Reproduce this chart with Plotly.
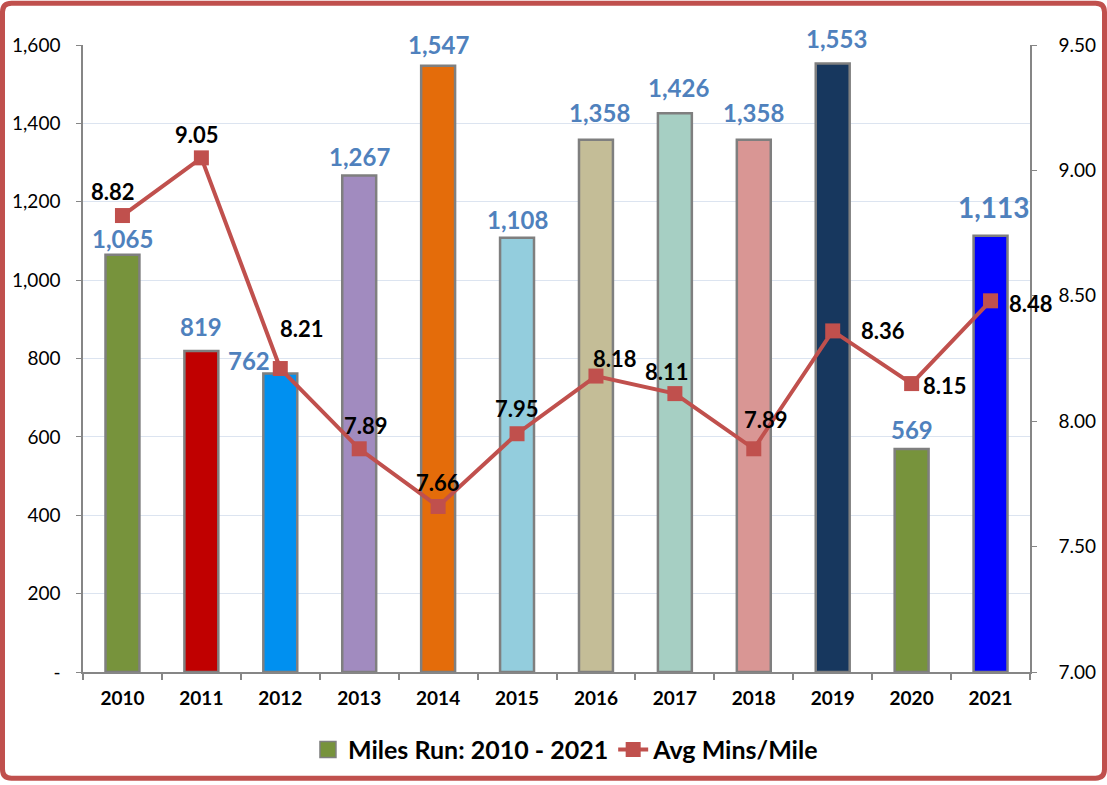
import plotly.graph_objects as go

# Data
years = ["2010", "2011", "2012", "2013", "2014", "2015",
         "2016", "2017", "2018", "2019", "2020", "2021"]
miles = [1065, 819, 762, 1267, 1547, 1108, 1358, 1426, 1358, 1553, 569, 1113]
pace = [8.82, 9.05, 8.21, 7.89, 7.66, 7.95, 8.18, 8.11, 7.89, 8.36, 8.15, 8.48]

miles_ticks = [0, 200, 400, 600, 800, 1000, 1200, 1400, 1600]
miles_ticktext = ["-", "200", "400", "600", "800", "1,000", "1,200", "1,400", "1,600"]
pace_ticks = [7.0, 7.5, 8.0, 8.5, 9.0, 9.5]

bar_colors = ["#77933C", "#C00000", "#0090F0", "#A18BBF", "#E46C0A", "#93CDDD",
              "#C4BD97", "#A6CFC3", "#D99694", "#17375E", "#77933C", "#0000FF"]

# label nudges in pixels (dx, dy up), copied from where Excel put them
bar_label_shift = [(0, 16), (0, 25), (-31, 13), (0, 19), (0, 21), (0, 18),
                   (4, 27), (4, 26), (0, 27), (4, 25), (0, 20), (3, 29)]
bar_label_size = [24] * 11 + [28]
line_label_shift = [(-9, 24), (-4, 23), (22, 40), (7, 23), (0, 24), (0, 25),
                    (19, 18), (-8, 22), (12, 29), (50, 0), (33, -2), (40, -3)]

FONT = "Lato, 'Open Sans', sans-serif"
W, H = 1107, 785
M = dict(l=83, r=77, t=45, b=111)
PW = W - M["l"] - M["r"]
PH = H - M["t"] - M["b"]


def px_x(x):
    return (x - M["l"]) / PW


def px_y(y):
    return (H - M["b"] - y) / PH


def rounded_rect(x0, y0, x1, y1, r):
    # path in paper coords, from pixel corners
    pts = [
        ("M", x0 + r, y0), ("L", x1 - r, y0), ("Q", x1, y0, x1, y0 + r),
        ("L", x1, y1 - r), ("Q", x1, y1, x1 - r, y1), ("L", x0 + r, y1),
        ("Q", x0, y1, x0, y1 - r), ("L", x0, y0 + r), ("Q", x0, y0, x0 + r, y0),
    ]
    out = []
    for p in pts:
        coords = p[1:]
        segs = []
        for i in range(0, len(coords), 2):
            segs.append(f"{px_x(coords[i]):.5f},{px_y(coords[i + 1]):.5f}")
        out.append(p[0] + " ".join(segs))
    return " ".join(out) + " Z"


fig = go.Figure()

fig.add_trace(go.Bar(
    x=years,
    y=miles,
    name="Miles Run: 2010 - 2021",
    marker=dict(color=bar_colors, line=dict(color="#7F7F7F", width=2.5)),
    width=0.43,
    showlegend=False,
))

# legend-only entry so the swatch is as big as Excel's
fig.add_trace(go.Scatter(
    x=[None],
    y=[None],
    name="Miles Run: 2010 - 2021",
    mode="markers",
    marker=dict(symbol="square", size=21, color=bar_colors[0],
                line=dict(color="#7F7F7F", width=1.5)),
))

fig.add_trace(go.Scatter(
    x=years,
    y=pace,
    name="Avg Mins/Mile",
    mode="lines+markers",
    line=dict(color="#C0504D", width=4),
    marker=dict(symbol="square", size=15, color="#C0504D"),
    yaxis="y2",
))

annotations = []
# category axis: annotation x is the category index
for i, v in enumerate(miles):
    dx, dy = bar_label_shift[i]
    annotations.append(dict(
        x=i, y=v, xref="x", yref="y", text=f"{v:,}", showarrow=False,
        xshift=dx, yshift=dy, yanchor="middle",
        font=dict(family=FONT, size=bar_label_size[i], color="#4F81BD", weight="bold"),
    ))
for i, v in enumerate(pace):
    dx, dy = line_label_shift[i]
    annotations.append(dict(
        x=i, y=v, xref="x", yref="y2", text=f"{v:.2f}", showarrow=False,
        xshift=dx, yshift=dy, yanchor="middle",
        font=dict(family=FONT, size=22, color="#000000", weight="bold"),
    ))

fig.update_layout(
    width=W,
    height=H,
    margin=M,
    paper_bgcolor="white",
    plot_bgcolor="white",
    font=dict(family=FONT, color="#000000"),
    xaxis=dict(
        type="category",
        range=[-0.5, len(years) - 0.5],
        tickson="boundaries",
        ticks="outside",
        ticklen=6,
        tickcolor="#868686",
        tickwidth=1.5,
        showline=True,
        linecolor="#868686",
        linewidth=2,
        showgrid=False,
        tickangle=0,
        automargin=False,
        ticklabelstandoff=8,
        tickfont=dict(family=FONT, size=19, weight="bold"),
    ),
    yaxis=dict(
        range=[0, 1600],
        tickvals=miles_ticks,
        ticktext=miles_ticktext,
        ticks="outside",
        ticklen=5,
        tickcolor="#868686",
        showline=True,
        linecolor="#868686",
        linewidth=1.5,
        showgrid=True,
        gridcolor="#DCE4F0",
        gridwidth=1,
        zeroline=False,
        automargin=False,
        ticklabelstandoff=12,
        tickfont=dict(family=FONT, size=19),
    ),
    yaxis2=dict(
        range=[7, 9.5],
        tickvals=pace_ticks,
        tickformat=".2f",
        overlaying="y",
        side="right",
        ticks="outside",
        ticklen=5,
        tickcolor="#868686",
        showline=True,
        linecolor="#868686",
        linewidth=1.5,
        showgrid=False,
        zeroline=False,
        automargin=False,
        ticklabelstandoff=18,
        tickfont=dict(family=FONT, size=19),
    ),
    legend=dict(
        orientation="h",
        x=0.51,
        xanchor="center",
        y=px_y(752),
        yanchor="middle",
        font=dict(family=FONT, size=25, weight="bold"),
        itemwidth=30,
    ),
    annotations=annotations,
    shapes=[dict(
        type="path",
        xref="paper",
        yref="paper",
        path=rounded_rect(2.5, 3, 1104.5, 780.5, 9),
        line=dict(color="#C0504D", width=5),
        fillcolor="rgba(0,0,0,0)",
        layer="above",
    )],
)

fig.write_html("out.html", config={"displayModeBar": False},
               post_script="document.body.style.margin='0';")
